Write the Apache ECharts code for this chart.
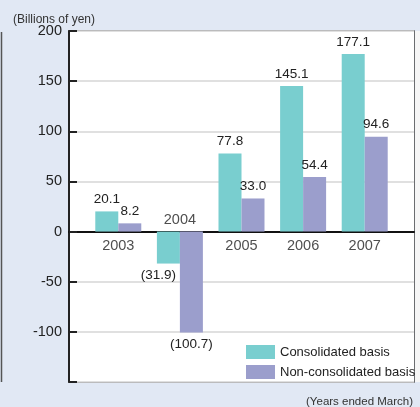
<!DOCTYPE html>
<html>
<head>
<meta charset="utf-8">
<script src="https://cdn.jsdelivr.net/npm/echarts@6/dist/echarts.min.js"></script>
<style>
html,body{margin:0;padding:0;background:#e1e8f4;}
#c{width:420px;height:407px;}
</style>
</head>
<body>
<div id="c"></div>
<script>
var categories = ['2003', '2004', '2005', '2006', '2007'];
var consolidated = [20.1, -31.9, 77.8, 145.1, 177.1];
var nonConsolidated = [8.2, -100.7, 33.0, 54.4, 94.6];
var seriesNames = ['Consolidated basis', 'Non-consolidated basis'];
var yMin = -150, yMax = 200, yStep = 50;
var unitLabel = '(Billions of yen)';
var periodLabel = '(Years ended March)';

var FONT = '"Liberation Sans", Arial, Helvetica, sans-serif';
var TXT = '#222';
var X_MIN = 0.2, X_MAX = 5.8;

function fmt(v) {
  return v < 0 ? '(' + (-v).toFixed(1) + ')' : v.toFixed(1);
}

function barData(vals, shiftNeg) {
  return vals.map(function (v, i) {
    var item = { value: [i + 1, v] };
    if (v < 0) {
      item.label = { position: 'bottom' };
      if (shiftNeg) item.label.offset = [-10, 0];
    }
    return item;
  });
}

var catLabelData = categories.map(function (c, i) {
  var neg = consolidated[i] < 0 || nonConsolidated[i] < 0;
  return {
    value: [i + 1, 0],
    name: c,
    label: neg ? { position: 'top', distance: 4 } : { position: 'bottom', distance: 7 }
  };
});

var chart = echarts.init(document.getElementById('c'));
chart.setOption({
  backgroundColor: '#e1e8f4',
  animation: false,
  title: [
    { text: unitLabel, left: 8, top: 9, textStyle: { fontSize: 12, fontWeight: 'normal', color: '#333', fontFamily: FONT } },
    { text: periodLabel, right: 2, top: 391, textStyle: { fontSize: 11.5, fontWeight: 'normal', color: '#333', fontFamily: FONT } }
  ],
  graphic: [
    { type: 'rect', shape: { x: 415, y: 31, width: 6, height: 351 }, style: { fill: '#f6f6f6' } },
    { type: 'line', shape: { x1: 1.5, y1: 32, x2: 1.5, y2: 382 }, style: { stroke: '#555', lineWidth: 1.5 } }
  ],
  grid: [
    { left: 69, top: 31, width: 345, height: 351, show: true, backgroundColor: '#ffffff', borderColor: '#444', borderWidth: 1.5 }
  ],
  xAxis: [
    {
      type: 'value', min: X_MIN, max: X_MAX,
      axisLine: { show: true, onZero: true, lineStyle: { color: '#111', width: 2 } },
      axisTick: { show: false }, axisLabel: { show: false }, splitLine: { show: false }
    }
  ],
  yAxis: [
    {
      type: 'value', min: yMin, max: yMax, interval: yStep,
      axisLine: { show: true, onZero: false, lineStyle: { color: '#222', width: 2 } },
      axisTick: { show: true, inside: true, length: 8, lineStyle: { color: '#222', width: 2 } },
      axisLabel: {
        color: TXT, fontSize: 14.5, margin: 7, fontFamily: FONT,
        formatter: function (v) { return v === yMin ? '' : String(v); }
      },
      splitLine: { show: true, lineStyle: { color: '#d6d6d6', width: 1.5 } },
      splitArea: { show: true, areaStyle: { color: ['#ffffff'] } }
    }
  ],
  legend: {
    orient: 'vertical', left: 241, top: 340,
    itemWidth: 29, itemHeight: 14, itemGap: 6,
    icon: 'rect',
    data: seriesNames,
    textStyle: { fontSize: 13, color: TXT, fontFamily: FONT }
  },
  series: [
    {
      name: seriesNames[0], type: 'bar',
      barWidth: 23, barGap: '0%',
      itemStyle: { color: '#79cecf' },
      label: { show: true, position: 'top', distance: 5, color: TXT, fontSize: 13.5, fontFamily: FONT, formatter: function (p) { return fmt(p.value[1]); } },
      data: barData(consolidated, true)
    },
    {
      name: seriesNames[1], type: 'bar',
      barWidth: 23, barGap: '0%',
      itemStyle: { color: '#9b9ecc' },
      label: { show: true, position: 'top', distance: 5, color: TXT, fontSize: 13.5, fontFamily: FONT, formatter: function (p) { return fmt(p.value[1]); } },
      data: barData(nonConsolidated, false)
    },
    {
      name: 'categoryLabels', type: 'scatter',
      symbolSize: 0, silent: true,
      label: { show: true, color: TXT, fontSize: 14.5, fontFamily: FONT, formatter: function (p) { return p.name; } },
      data: catLabelData
    }
  ]
});
</script>
</body>
</html>
